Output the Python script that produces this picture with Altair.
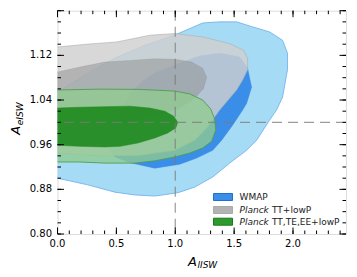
import altair as alt
import pandas as pd

# ---------------- data ----------------
# WMAP 95% contour
wmap95_x = [-0.06, 0.0, 0.233, 0.487, 0.742, 0.992, 1.233, 1.377, 1.521, 1.657, 1.801, 1.911, 1.953, 1.953,
            1.911, 1.860, 1.801, 1.691, 1.606, 1.462, 1.318, 1.165, 1.038, 0.996, 0.826, 0.657, 0.487, 0.258, 0.0, -0.06]
wmap95_y = [1.056, 1.054, 1.085, 1.115, 1.138, 1.156, 1.178, 1.180, 1.180, 1.171, 1.162, 1.147, 1.124, 1.094,
            1.045, 1.022, 1.004, 0.968, 0.950, 0.927, 0.902, 0.884, 0.875, 0.873, 0.868, 0.870, 0.875, 0.888, 0.900, 0.902]
# WMAP 68% contour
wmap68_x = [1.614, 1.648, 1.606, 1.572, 1.487, 1.394, 1.318, 1.182, 1.038, 0.826, 0.631, 0.487, 0.445, 0.487,
            0.547, 0.623, 0.725, 0.826, 1.038, 1.208, 1.377, 1.547]
wmap68_y = [1.097, 1.063, 1.034, 1.022, 0.995, 0.968, 0.950, 0.936, 0.925, 0.918, 0.927, 0.938, 0.950, 0.986,
            1.022, 1.054, 1.074, 1.088, 1.106, 1.119, 1.124, 1.117]
# Planck TT+lowP 95%
tt95_x = [-0.06, 0.0, 0.25, 0.504, 0.784, 0.996, 1.233, 1.462, 1.581, 1.614, 1.614, 1.572, 1.521, 1.377,
          1.267, 1.165, 0.996, 0.699, 0.36, 0.0, -0.06]
tt95_y = [1.135, 1.135, 1.140, 1.144, 1.156, 1.159, 1.153, 1.141, 1.129, 1.115, 1.094, 1.076, 1.058, 1.022,
          0.990, 0.968, 0.950, 0.941, 0.940, 0.945, 0.945]
# Planck TT+lowP 68%
tt68_x = [-0.06, 0.0, 0.19, 0.40, 0.614, 0.826, 0.996, 1.14, 1.233, 1.267, 1.242, 1.174, 1.038, 0.784,
          0.445, 0.0, -0.06]
tt68_y = [1.090, 1.090, 1.099, 1.108, 1.111, 1.114, 1.113, 1.108, 1.097, 1.081, 1.061, 1.045, 1.026, 1.008,
          0.997, 0.993, 0.993]
# Planck TT,TE,EE+lowP 95%
all95_x = [-0.06, 0.0, 0.36, 0.699, 0.996, 1.123, 1.233, 1.301, 1.335, 1.343, 1.309, 1.233, 1.123, 0.996,
           0.826, 0.657, 0.403, 0.19, 0.0, -0.06]
all95_y = [1.058, 1.058, 1.0595, 1.059, 1.056, 1.051, 1.040, 1.024, 1.006, 0.986, 0.966, 0.954, 0.945, 0.938,
           0.931, 0.927, 0.927, 0.929, 0.929, 0.929]
# Planck TT,TE,EE+lowP 68%
all68_x = [-0.06, 0.0, 0.19, 0.40, 0.614, 0.784, 0.911, 0.987, 1.021, 1.004, 0.936, 0.826, 0.682, 0.53,
           0.403, 0.19, 0.0, -0.06]
all68_y = [1.0255, 1.0255, 1.027, 1.028, 1.029, 1.0255, 1.020, 1.011, 1.000, 0.990, 0.981, 0.972, 0.963, 0.957,
           0.956, 0.957, 0.959, 0.959]

ref_x = [1.0]
ref_y = [1.0]

x_major = [0.0, 0.5, 1.0, 1.5, 2.0]
x_minor = [round(0.1 * i, 1) for i in range(25)]
y_major = [0.80, 0.88, 0.96, 1.04, 1.12, 1.20]
y_minor = [round(0.80 + 0.02 * i, 2) for i in range(21)]
x_labels = ["0.0", "0.5", "1.0", "1.5", "2.0"]
y_label_vals = [0.80, 0.88, 0.96, 1.04, 1.12]
y_labels = ["0.80", "0.88", "0.96", "1.04", "1.12"]

legend_main = ["WMAP", "Planck", "Planck"]
legend_rest = ["", "TT+lowP", "TT,TE,EE+lowP"]
legend_fill = ["#3b8ee8", "#b3b3b3", "#2e9a2e"]
legend_edge = ["#1f6fd6", "#aaaaaa", "#1a7a1a"]

# ---------------- layout ----------------
W, H = 288.5, 223.3
FONT = "DejaVu Sans"
xs = alt.Scale(domain=[0, 2.45], nice=False, zero=False)
ys = alt.Scale(domain=[0.80, 1.20], nice=False, zero=False)


def poly(xv, yv, fill, fill_op, stroke, sw, stroke_op=1.0):
    xv = list(xv) + [xv[0]]
    yv = list(yv) + [yv[0]]
    df = pd.DataFrame({"x": xv, "y": yv, "i": range(len(xv))})
    return alt.Chart(df).mark_line(
        fill=fill, fillOpacity=fill_op, stroke=stroke, strokeWidth=sw,
        strokeOpacity=stroke_op, clip=True, interpolate="linear"
    ).encode(
        x=alt.X("x:Q", scale=xs, axis=None),
        y=alt.Y("y:Q", scale=ys, axis=None),
        order="i:Q",
    )


layers = []
layers.append(poly(wmap95_x, wmap95_y, "#a6dbf5", 1.0, "#74b3ee", 0.9))
layers.append(poly(wmap68_x, wmap68_y, "#3b8ee8", 1.0, "#3388e6", 0.5))
layers.append(poly(tt95_x, tt95_y, "#d0d0d0", 0.82, "#b0b0b0", 0.8, 0.8))
layers.append(poly(tt68_x, tt68_y, "#8e8e8e", 0.5, "#8e8e8e", 0.5, 0.4))
layers.append(poly(all95_x, all95_y, "#8fcb8f", 0.78, "#4f9e4f", 0.9))
layers.append(poly(all68_x, all68_y, "#1f8a1f", 0.92, "#1f8a1f", 0.5))

# reference dashed lines
layers.append(alt.Chart(pd.DataFrame({"v": ref_x})).mark_rule(
    color="#7a7a7a", strokeDash=[10, 6], strokeWidth=1.2, opacity=0.75).encode(
    x=alt.X("v:Q", scale=xs, axis=None)))
layers.append(alt.Chart(pd.DataFrame({"v": ref_y})).mark_rule(
    color="#7a7a7a", strokeDash=[10, 6], strokeWidth=1.2, opacity=0.75).encode(
    y=alt.Y("v:Q", scale=ys, axis=None)))


# inward ticks on all four sides
def xticks(vals, ln):
    d = pd.DataFrame({"v": vals})
    b = alt.Chart(d).mark_rule(color="black", strokeWidth=1).encode(
        x=alt.X("v:Q", scale=xs, axis=None), y=alt.value(H), y2=alt.value(H - ln))
    t = alt.Chart(d).mark_rule(color="black", strokeWidth=1).encode(
        x=alt.X("v:Q", scale=xs, axis=None), y=alt.value(0), y2=alt.value(ln))
    return [b, t]


def yticks(vals, ln):
    d = pd.DataFrame({"v": vals})
    l = alt.Chart(d).mark_rule(color="black", strokeWidth=1).encode(
        y=alt.Y("v:Q", scale=ys, axis=None), x=alt.value(0), x2=alt.value(ln))
    r = alt.Chart(d).mark_rule(color="black", strokeWidth=1).encode(
        y=alt.Y("v:Q", scale=ys, axis=None), x=alt.value(W), x2=alt.value(W - ln))
    return [l, r]


layers += xticks(x_minor, 3.5) + xticks(x_major, 6.5)
layers += yticks(y_minor, 3.5) + yticks(y_major, 6.5)

# tick labels
layers.append(alt.Chart(pd.DataFrame({"v": x_major, "t": x_labels})).mark_text(
    font=FONT, fontSize=10, align="center", baseline="top", color="black").encode(
    x=alt.X("v:Q", scale=xs, axis=None), y=alt.value(H + 5), text="t:N"))
layers.append(alt.Chart(pd.DataFrame({"v": y_label_vals, "t": y_labels})).mark_text(
    font=FONT, fontSize=10, align="right", baseline="middle", color="black").encode(
    y=alt.Y("v:Q", scale=ys, axis=None), x=alt.value(-5.5), text="t:N"))

# legend
one = pd.DataFrame({"k": [0]})
row_y = [186.3, 199.3, 211.0]
for i in range(3):
    layers.append(alt.Chart(one).mark_rect(fill=legend_fill[i], stroke=legend_edge[i], strokeWidth=1).encode(
        x=alt.value(156), x2=alt.value(175), y=alt.value(row_y[i] - 3.5), y2=alt.value(row_y[i] + 3.5)))
    layers.append(alt.Chart(one).mark_text(
        text=legend_main[i], font=FONT, fontSize=9, align="left", baseline="middle",
        fontStyle="normal" if i == 0 else "italic", color="#222222").encode(
        x=alt.value(182), y=alt.value(row_y[i])))
    if legend_rest[i]:
        layers.append(alt.Chart(one).mark_text(
            text=legend_rest[i], font=FONT, fontSize=9, align="left", baseline="middle",
            color="#222222").encode(x=alt.value(214.5), y=alt.value(row_y[i])))

# axis titles with subscripts
layers.append(alt.Chart(one).mark_text(text="A", font=FONT, fontSize=13, fontStyle="italic",
                                       align="left", baseline="alphabetic", color="black").encode(
    x=alt.value(130.5), y=alt.value(H + 31.5)))
layers.append(alt.Chart(one).mark_text(text="lISW", font=FONT, fontSize=9, fontStyle="italic",
                                       align="left", baseline="alphabetic", color="black").encode(
    x=alt.value(140), y=alt.value(H + 34)))
layers.append(alt.Chart(one).mark_text(text="A", font=FONT, fontSize=13, fontStyle="italic", angle=270,
                                       align="left", baseline="alphabetic", color="black").encode(
    x=alt.value(-37.5), y=alt.value(124)))
layers.append(alt.Chart(one).mark_text(text="eISW", font=FONT, fontSize=9, fontStyle="italic", angle=270,
                                       align="left", baseline="alphabetic", color="black").encode(
    x=alt.value(-35), y=alt.value(114.5)))

chart = alt.layer(*layers).properties(
    width=W, height=H,
    autosize=alt.AutoSizeParams(type="none"),
    padding={"left": 49.5, "top": 2.7, "right": 3, "bottom": 35},
).configure_view(stroke="black", strokeWidth=1.3).configure(background="white")

chart.save("out.html", embed_options={"renderer": "svg", "actions": False})
